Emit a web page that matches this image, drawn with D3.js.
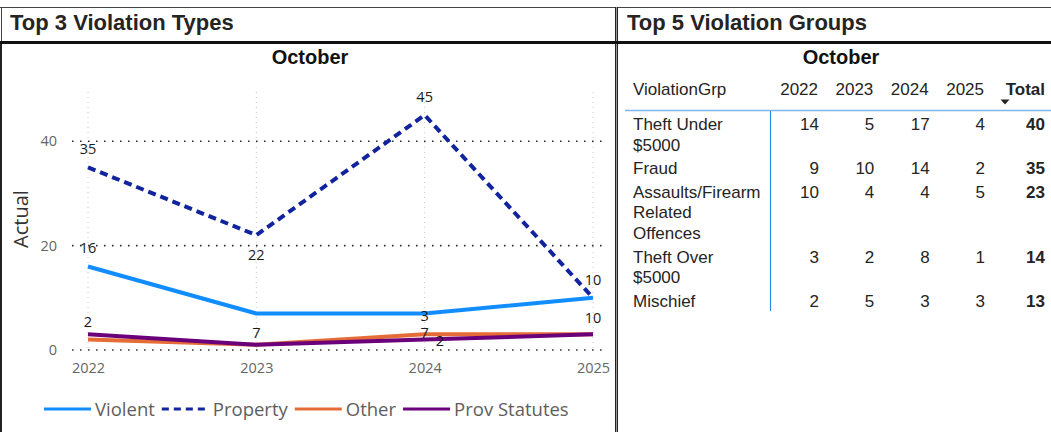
<!DOCTYPE html>
<html lang="en">
<head>
<meta charset="UTF-8">
<title>Violations - October</title>
<script src="https://d3js.org/d3.v7.min.js"></script>
<style>
  body { margin: 0; background: #fff; }
</style>
</head>
<body>
<svg id="dash" width="1051" height="432"></svg>
<script>
// line chart: October counts per year
var years = ["2022", "2023", "2024", "2025"];
var violent = [16, 7, 7, 10];
var property = [35, 22, 45, 10];
var other = [2, 1, 3, 3];
var provStatutes = [3, 1, 2, 3];
var yTicks = [0, 20, 40];

// table: top 5 violation groups
var groupNames = [["Theft Under", "$5000"], ["Fraud"], ["Assaults/Firearm", "Related", "Offences"], ["Theft Over", "$5000"], ["Mischief"]];
var grp2022 = [14, 9, 10, 3, 2];
var grp2023 = [5, 10, 4, 2, 5];
var grp2024 = [17, 14, 4, 8, 3];
var grp2025 = [4, 2, 5, 1, 3];

var svg = d3.select("#dash");
var dark = "#252423";
var chartFont = "'Open Sans', sans-serif";
var tableFont = "'Liberation Sans', Arial, sans-serif";

// ---- frames / borders
svg.append("line").attr("x1", 0).attr("x2", 1051).attr("y1", 7.5).attr("y2", 7.5).attr("stroke", "#444").attr("stroke-width", 1);
svg.append("line").attr("x1", 1.5).attr("x2", 1.5).attr("y1", 7).attr("y2", 42).attr("stroke", "#444").attr("stroke-width", 1);
svg.append("line").attr("x1", 1).attr("x2", 1).attr("y1", 42).attr("y2", 432).attr("stroke", "#222").attr("stroke-width", 2);
svg.append("rect").attr("x", 615).attr("y", 7).attr("width", 3).attr("height", 425).attr("fill", "#999");
svg.append("line").attr("x1", 615.5).attr("x2", 615.5).attr("y1", 7).attr("y2", 432).attr("stroke", "#222");
svg.append("line").attr("x1", 617.5).attr("x2", 617.5).attr("y1", 7).attr("y2", 432).attr("stroke", "#222");
svg.append("line").attr("x1", 0).attr("x2", 1051).attr("y1", 42.5).attr("y2", 42.5).attr("stroke", "#111").attr("stroke-width", 3);

// panel titles
svg.append("text").attr("x", 10).attr("y", 30).text("Top 3 Violation Types")
    .style("font", "bold 22px " + tableFont).attr("fill", dark);
svg.append("text").attr("x", 627).attr("y", 30).text("Top 5 Violation Groups")
    .style("font", "bold 22px " + tableFont).attr("fill", dark);
svg.append("text").attr("x", 310).attr("y", 64).attr("text-anchor", "middle").text("October")
    .style("font", "bold 20px " + tableFont).attr("fill", "#111");
svg.append("text").attr("x", 841).attr("y", 64).attr("text-anchor", "middle").text("October")
    .style("font", "bold 20px " + tableFont).attr("fill", "#111");

// ---- line chart
var x = d3.scalePoint().domain(years).range([88, 593]);
var y = d3.scaleLinear().domain([0, 50]).range([350, 89]);

var series = [
    { name: "Violent", values: violent, color: "#118DFF", dash: null, labels: ["above", "below", "below", "below"] },
    { name: "Property", values: property, color: "#12239E", dash: "8,5", labels: ["above", "below", "above", "above"] },
    { name: "Other", values: other, color: "#E66C37", dash: null, labels: ["above", null, "above", null] },
    { name: "Prov Statutes", values: provStatutes, color: "#6B007B", dash: null, labels: [null, null, "right", null] }
];

var plot = svg.append("g");

// grid
plot.selectAll(".vgrid").data(years).enter().append("line")
    .attr("x1", d => x(d)).attr("x2", d => x(d))
    .attr("y1", 92).attr("y2", 352)
    .attr("stroke", "#c8c8c8").attr("stroke-dasharray", "1,4");
plot.selectAll(".hgrid").data(yTicks).enter().append("line")
    .attr("x1", 72).attr("x2", 607)
    .attr("y1", d => y(d)).attr("y2", d => y(d))
    .attr("stroke", "#333").attr("stroke-width", 1.6).attr("stroke-dasharray", "1.6,6.4");

// axes
var yAxis = plot.append("g").attr("transform", "translate(62,0)")
    .call(d3.axisLeft(y).tickValues(yTicks).tickSize(0).tickPadding(5));
var xAxis = plot.append("g").attr("transform", "translate(0,352)")
    .call(d3.axisBottom(x).tickSize(0).tickPadding(11));
[yAxis, xAxis].forEach(function (g) {
    g.select(".domain").remove();
    g.attr("color", "#666").selectAll("text").style("font", "14.5px " + chartFont);
});

svg.append("text")
    .attr("transform", "translate(28,219) rotate(-90)")
    .attr("text-anchor", "middle")
    .text("Actual")
    .style("font", "20px " + chartFont).attr("fill", "#333");

// lines
var line = d3.line().x((d, i) => x(years[i])).y(d => y(d));
plot.selectAll(".series").data(series).enter().append("path")
    .attr("d", d => line(d.values))
    .attr("fill", "none")
    .attr("stroke", d => d.color)
    .attr("stroke-width", 4)
    .attr("stroke-linejoin", "round")
    .attr("stroke-dasharray", d => d.dash);

// data labels
series.forEach(function (s) {
    s.values.forEach(function (v, i) {
        var pos = s.labels[i];
        if (!pos) return;
        var px = x(years[i]), py = y(v);
        var t = plot.append("text").text(v)
            .style("font", "14.5px " + chartFont).attr("fill", "#1a1a1a");
        if (pos == "above") t.attr("x", px).attr("y", py - 13).attr("text-anchor", "middle");
        if (pos == "below") t.attr("x", px).attr("y", py + 25).attr("text-anchor", "middle");
        if (pos == "right") t.attr("x", px + 11).attr("y", py + 6).attr("text-anchor", "start");
    });
});

// legend
var lx = 44;
series.forEach(function (s) {
    var g = svg.append("g").attr("transform", "translate(" + lx + ",409)");
    g.append("line").attr("x1", 0).attr("x2", 47).attr("y1", 0).attr("y2", 0)
        .attr("stroke", s.color).attr("stroke-width", 3)
        .attr("stroke-dasharray", s.dash ? "7,5" : null);
    var t = g.append("text").attr("x", 51).attr("y", 6.5).text(s.name)
        .style("font", "18.5px " + chartFont).attr("fill", "#605E5C");
    lx += 51 + t.node().getComputedTextLength() + 7;
});

// ---- table
var colX = d3.scalePoint().domain(years).range([819, 985]);
var totalX = 1045;
var header = svg.append("g").style("font", "17px " + tableFont).attr("fill", dark);
header.append("text").attr("x", 633).attr("y", 95).text("ViolationGrp");
years.forEach(function (yr) {
    header.append("text").attr("x", colX(yr) - 1).attr("y", 95).attr("text-anchor", "end").text(yr);
});
header.append("text").attr("x", totalX).attr("y", 95).attr("text-anchor", "end")
    .style("font-weight", "bold").text("Total");
svg.append("path").attr("d", "M1000.5,99.5L1009.5,99.5L1005,104.5Z").attr("fill", dark);

svg.append("line").attr("x1", 625).attr("x2", 1051).attr("y1", 110.5).attr("y2", 110.5)
    .attr("stroke", "#7fb6ec").attr("stroke-width", 1.5);
svg.append("line").attr("x1", 770.5).attr("x2", 770.5).attr("y1", 111).attr("y2", 311)
    .attr("stroke", "#2a8be6").attr("stroke-width", 1.2);

var cols = [grp2022, grp2023, grp2024, grp2025];
var lineH = 20.6, rowPad = 3, base = 130;
var body = svg.append("g").style("font", "17px " + tableFont).attr("fill", dark);
groupNames.forEach(function (lines, r) {
    lines.forEach(function (ln, k) {
        body.append("text").attr("x", 633).attr("y", base + k * lineH).text(ln);
    });
    var total = 0;
    cols.forEach(function (col, c) {
        total += col[r];
        body.append("text").attr("x", colX(years[c])).attr("y", base).attr("text-anchor", "end").text(col[r]);
    });
    body.append("text").attr("x", totalX).attr("y", base).attr("text-anchor", "end")
        .style("font-weight", "bold").text(total);
    base += lines.length * lineH + rowPad;
});
</script>
</body>
</html>
